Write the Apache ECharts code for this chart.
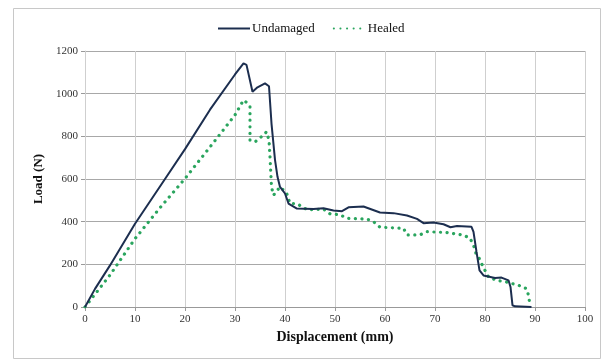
<!DOCTYPE html>
<html>
<head>
<meta charset="utf-8">
<script src="https://cdn.jsdelivr.net/npm/echarts@6/dist/echarts.min.js"></script>
<style>
    html, body { margin: 0; padding: 0; background: #fff; }
    #chart { width: 607px; height: 361px; }
</style>
</head>
<body>
<div id="chart"></div>
<script>
    // 曲线数据
    var undamagedX = [0, 2, 5, 10, 16, 20, 25, 30, 31.7, 32.3, 33.5, 34.5, 36, 36.8, 37.3, 38, 38.5, 39, 40, 40.7,
        42.3, 45.7, 47.7, 49.7, 51.4, 52.7, 55.7, 59, 61.7, 64.4, 66.4, 67.7, 69.7, 71.7, 73.1, 74.4, 77.3, 77.7,
        78.3, 78.9, 79.7, 82, 83.3, 84.7, 85.1, 85.5, 86, 89.3];
    var undamagedLoad = [0, 85, 195, 390, 600, 740, 925, 1090, 1142, 1135, 1009, 1030, 1048, 1035, 860, 690, 610, 563, 532, 485,
        462, 459, 463, 452, 449, 467, 471, 443, 440, 429, 413, 393, 396, 388, 374, 380, 376, 352,
        258, 172, 148, 136, 138, 125, 94, 8, 3, 0];

    var healedX = [0, 5, 10, 15, 20, 25, 30, 31.7, 32.5, 33, 33, 34, 35.3, 36.3, 36.8, 37, 37.3, 37.7, 39, 40.3,
        41, 42.3, 43.3, 44.4, 47.7, 49, 51, 52.4, 56.4, 57.7, 59, 63.7, 64.4, 67, 68.4, 72.4, 75.7, 77,
        77.7, 78.2, 78.7, 79.3, 80, 80.7, 82.3, 84.3, 86.7, 88.3, 88.7, 88.9, 89];
    var healedLoad = [0, 150, 320, 465, 602, 750, 900, 970, 955, 939, 782, 774, 798, 821, 782, 704, 563, 524, 563, 535,
        485, 485, 472, 456, 459, 437, 432, 416, 412, 400, 374, 369, 338, 338, 353, 349, 337, 322,
        290, 251, 235, 204, 172, 141, 125, 117, 102, 86, 55, 24, 13];

    var seriesNames = ['Undamaged', 'Healed'];

    function pairs(xs, ys) {
        return xs.map(function(x, i) { return [x, ys[i]]; });
    }

    var myChart = echarts.init(document.getElementById('chart'));
    var serif = '"Liberation Serif", "DejaVu Serif", serif';

    var option = {
        animation: false,
        backgroundColor: '#fff',
        textStyle: { fontFamily: serif, color: '#222' },
        // 外框
        graphic: [{
            type: 'rect',
            shape: { x: 13.5, y: 8.5, width: 587, height: 350 },
            style: { fill: 'none', stroke: '#c8c8c8', lineWidth: 1 },
            silent: true
        }],
        legend: {
            data: seriesNames,
            top: 17,
            left: 212,
            itemWidth: 32,
            itemHeight: 10,
            itemGap: 18,
            itemStyle: { opacity: 0 },
            textStyle: { fontFamily: serif, fontSize: 13, color: '#111', padding: [0, 0, 0, -3] }
        },
        grid: {
            left: 85,
            right: 22,
            top: 51,
            bottom: 54
        },
        xAxis: {
            type: 'value',
            min: 0,
            max: 100,
            interval: 10,
            name: 'Displacement (mm)',
            nameLocation: 'middle',
            nameGap: 21,
            nameTextStyle: { fontFamily: serif, fontSize: 14, fontWeight: 'bold', color: '#111' },
            axisLine: { show: true, lineStyle: { color: '#999' } },
            axisTick: { show: true, length: 4, lineStyle: { color: '#999' } },
            axisLabel: { fontFamily: serif, fontSize: 11, color: '#333', margin: 7 },
            splitLine: { show: true, lineStyle: { color: '#cfcfcf' } }
        },
        yAxis: {
            type: 'value',
            min: 0,
            max: 1200,
            interval: 200,
            name: 'Load (N)',
            nameLocation: 'middle',
            nameGap: 34,
            nameRotate: 90,
            nameTextStyle: { fontFamily: serif, fontSize: 13, fontWeight: 'bold', color: '#111' },
            axisLine: { show: true, lineStyle: { color: '#cfcfcf' } },
            axisTick: { show: true, length: 4, lineStyle: { color: '#999' } },
            axisLabel: {
                fontFamily: serif, fontSize: 11, color: '#333', margin: 7,
                formatter: function(v) { return String(v); }
            },
            splitLine: { show: true, lineStyle: { color: '#a8a8a8' } }
        },
        series: [{
            name: seriesNames[0],
            type: 'line',
            data: pairs(undamagedX, undamagedLoad),
            showSymbol: false,
            symbol: 'none',
            lineStyle: { color: '#1c2e4f', width: 2 },
            itemStyle: { color: '#1c2e4f' },
            z: 3
        }, {
            name: seriesNames[1],
            type: 'line',
            data: pairs(healedX, healedLoad),
            showSymbol: false,
            symbol: 'none',
            lineStyle: { color: '#2aa55e', width: 3.2, type: [0.1, 6.5], cap: 'round' },
            itemStyle: { color: '#2aa55e' },
            z: 2
        }]
    };

    myChart.setOption(option);
</script>
</body>
</html>
